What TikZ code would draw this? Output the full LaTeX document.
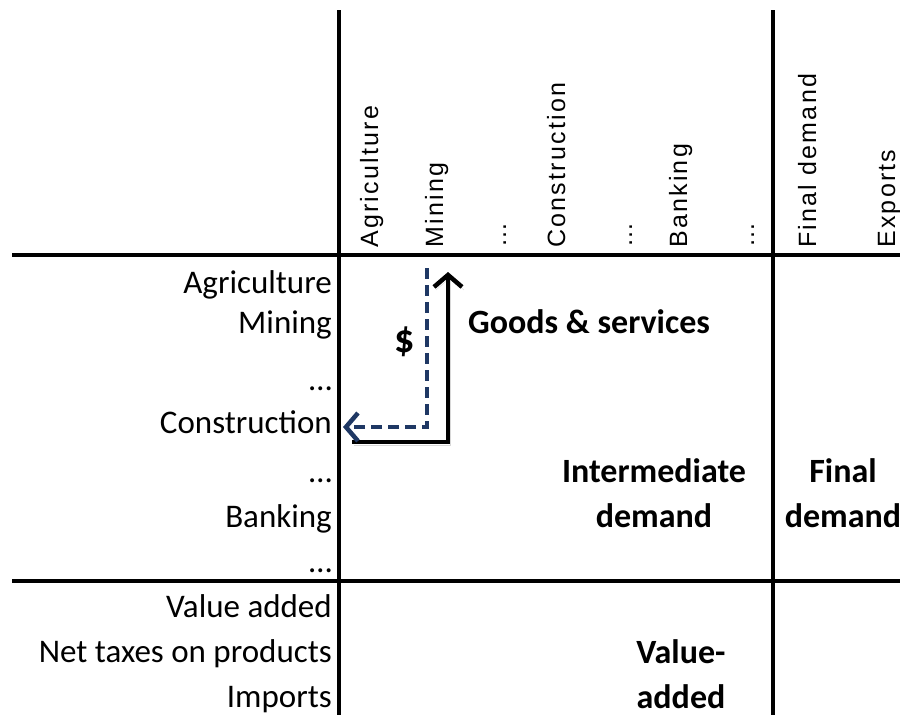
\documentclass[tikz,border=0pt]{standalone}
\usepackage{fontspec}
\setmainfont{Carlito}
\newfontfamily\hdrfont[LetterSpace=9]{Liberation Sans}
\usetikzlibrary{arrows.meta}
\definecolor{flowblue}{RGB}{31,56,100}
\tikzset{
    rowlab/.style={anchor=base east,inner sep=0pt,font=\fontsize{33}{40}\selectfont},
    collab/.style={anchor=base west,rotate=90,inner sep=0pt,font=\hdrfont\fontsize{25}{30}\selectfont},
    biglab/.style={anchor=base,inner sep=0pt,align=center,font=\bfseries\fontsize{34}{45}\selectfont},
    rule/.style={line width=3.5pt},
    flow/.style={line width=4.5pt,-{Straight Barb[length=12pt,width=28pt]},
        preaction={draw=black!30,opacity=.5,transform canvas={shift={(2pt,-3pt)}}}},
    dashflow/.style={flowblue,line width=4.5pt,dash pattern=on 11pt off 6pt,
        -{Straight Barb[length=12pt,width=28pt]}}
}
\begin{document}
\begin{tikzpicture}[x=1pt,y=-1pt]
    \useasboundingbox (0,0) rectangle (900,715);
    % table rules
    \draw[rule] (12,255) -- (900,255);
    \draw[rule] (12,581) -- (900,581);
    \draw[rule] (339,10) -- (339,715);
    \draw[rule] (773,10) -- (773,715);
    % column heads
    \path (378,248) node[collab] (cAgr) {Agriculture}
        (443,248) node[collab] (cMin) {Mining}
        (506,248) node[collab] (cDotsA) {…}
        (565,248) node[collab] (cCon) {Construction}
        (632,248) node[collab] (cDotsB) {…}
        (687,248) node[collab] (cBan) {Banking}
        (754,248) node[collab] (cDotsC) {…}
        (816,248) node[collab] (cFin) {Final demand}
        (895,248) node[collab] (cExp) {Exports};
    % row heads
    \path (332,293) node[rowlab] (rAgr) {Agriculture}
        (332,333) node[rowlab] (rMin) {Mining}
        (332,390) node[rowlab] (rDotsA) {…}
        (332,433) node[rowlab] (rCon) {Construction}
        (332,482) node[rowlab] (rDotsB) {…}
        (332,527) node[rowlab] (rBan) {Banking}
        (332,572) node[rowlab] (rDotsC) {…}
        (332,617) node[rowlab] (rVal) {Value added}
        (332,662) node[rowlab] (rTax) {Net taxes on products}
        (332,707) node[rowlab] (rImp) {Imports};
    % blocks
    \node[biglab,anchor=base west] (goods) at (468,333) {Goods \& services};
    \node[biglab] (inter) at (654,527) {Intermediate\\demand};
    \node[biglab] (final) at (843,527) {Final\\demand};
    \node[biglab] (vadd) at (681,708) {Value-\\added};
    % flows
    \coordinate (gStart) at (352,442);
    \coordinate (gEnd) at (448,272);
    \coordinate (pStart) at (427,268);
    \coordinate (pEnd) at (343,427);
    \draw[flow] (gStart) -| (gEnd);
    \draw[dashflow] (pStart) |- (pEnd);
    \node[font=\bfseries\fontsize{40}{48}\selectfont] (dollar) at (405,342) {\$};
\end{tikzpicture}
\end{document}
